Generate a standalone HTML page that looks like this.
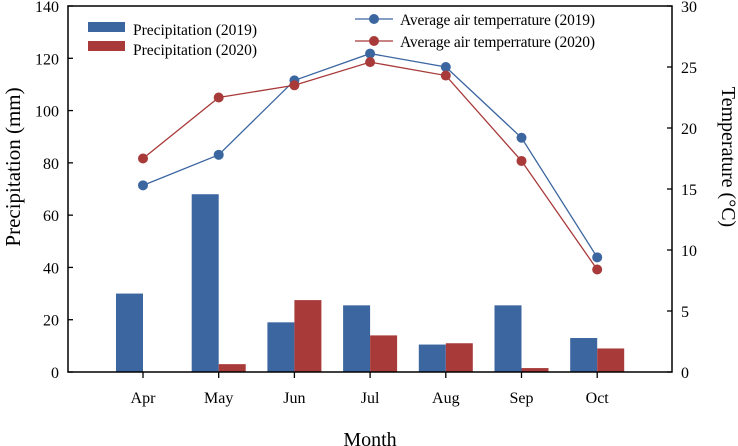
<!DOCTYPE html>
<html><head><meta charset="utf-8"><style>
body{margin:0;background:#fff}
svg{display:block}
svg text{font-family:"Liberation Serif",serif;fill:#000}
</style></head><body>
<svg id="chart" width="738" height="446" xmlns="http://www.w3.org/2000/svg" style="position:absolute;left:0;top:0"></svg>
<script>
const months=["Apr","May","Jun","Jul","Aug","Sep","Oct"];
const precip2019=[30,68,19,25.5,10.5,25.5,13];
const precip2020=[0,3,27.5,14,11,1.5,9];
const temp2019=[15.3,17.8,23.9,26.1,25.0,19.2,9.4];
const temp2020=[17.5,22.5,23.5,25.4,24.3,17.3,8.4];
const leftTicks=[0,20,40,60,80,100,120,140];
const rightTicks=[0,5,10,15,20,25,30];

const svg=document.getElementById('chart');
const NS='http://www.w3.org/2000/svg';
const L=68,R=672,T=6,B=372;
const yL=v=>B-(v/140)*(B-T);
const yR=v=>B-(v/30)*(B-T);
const xM=i=>143+i*75.7;
const BLUE='#3c66a0',RED='#a83a3a';
function el(tag,attrs,parent){const e=document.createElementNS(NS,tag);for(const k in attrs)e.setAttribute(k,attrs[k]);(parent||svg).appendChild(e);return e;}

months.forEach((m,i)=>{
  const b1=el('rect',{x:xM(i)-27,y:yL(precip2019[i]),width:27,height:B-yL(precip2019[i]),fill:BLUE});
  
  
  const b2=el('rect',{x:xM(i),y:yL(precip2020[i]),width:27,height:B-yL(precip2020[i]),fill:RED});
  
  
});
[[temp2019,BLUE,'2019'],[temp2020,RED,'2020']].forEach(([d,c,y])=>{
  const pl=el('polyline',{points:d.map((v,i)=>xM(i)+','+yR(v)).join(' '),fill:'none',stroke:c,'stroke-width':1.3});
  
  
  d.forEach((v,i)=>{
    const p=el('circle',{cx:xM(i),cy:yR(v),r:5,fill:c});
    
    
  });
});
el('rect',{x:L,y:T,width:R-L,height:B-T,fill:'none',stroke:'#000','stroke-width':1.5});
leftTicks.forEach(v=>{
  el('line',{x1:L,y1:yL(v),x2:L+5,y2:yL(v),stroke:'#000','stroke-width':1.3});
  const t=el('text',{x:L-9,y:yL(v)+6,'text-anchor':'end','font-size':16});t.textContent=v;
  
  
});
rightTicks.forEach(v=>{
  el('line',{x1:R-5,y1:yR(v),x2:R,y2:yR(v),stroke:'#000','stroke-width':1.3});
  const t=el('text',{x:R+9,y:yR(v)+6,'font-size':16});t.textContent=v;
  
  
});
months.forEach((m,i)=>{
  el('line',{x1:xM(i),y1:B,x2:xM(i),y2:B+6,stroke:'#000','stroke-width':1.3});
  const t=el('text',{x:xM(i),y:403,'text-anchor':'middle','font-size':16});t.textContent=m;
  
  
});
</script>
<svg style="position:absolute;left:0;top:0" width="738" height="446" xmlns="http://www.w3.org/2000/svg">
<text x="370" y="446" text-anchor="middle" font-size="20">Month</text>
<text transform="translate(20,167) rotate(-90)" text-anchor="middle" font-size="21">Precipitation (mm)</text>
<text transform="translate(722,157) rotate(90)" text-anchor="middle" font-size="20">Temperature (°C)</text>
<g font-size="15.5">
<rect x="88" y="22" width="37" height="10" fill="#3c66a0"/><text x="133" y="35" textLength="124">Precipitation (2019)</text>
<rect x="88" y="41" width="37" height="10" fill="#a83a3a"/><text x="133" y="55" textLength="124">Precipitation (2020)</text>
<line x1="355" y1="19" x2="393" y2="19" stroke="#3c66a0" stroke-width="1.3"/><circle cx="374" cy="19" r="5" fill="#3c66a0"/><text x="400" y="25" textLength="195">Average air temperrature (2019)</text>
<line x1="355" y1="41" x2="393" y2="41" stroke="#a83a3a" stroke-width="1.3"/><circle cx="374" cy="41" r="5" fill="#a83a3a"/><text x="400" y="47" textLength="195">Average air temperrature (2020)</text>
</g>
</svg>
</body></html>
